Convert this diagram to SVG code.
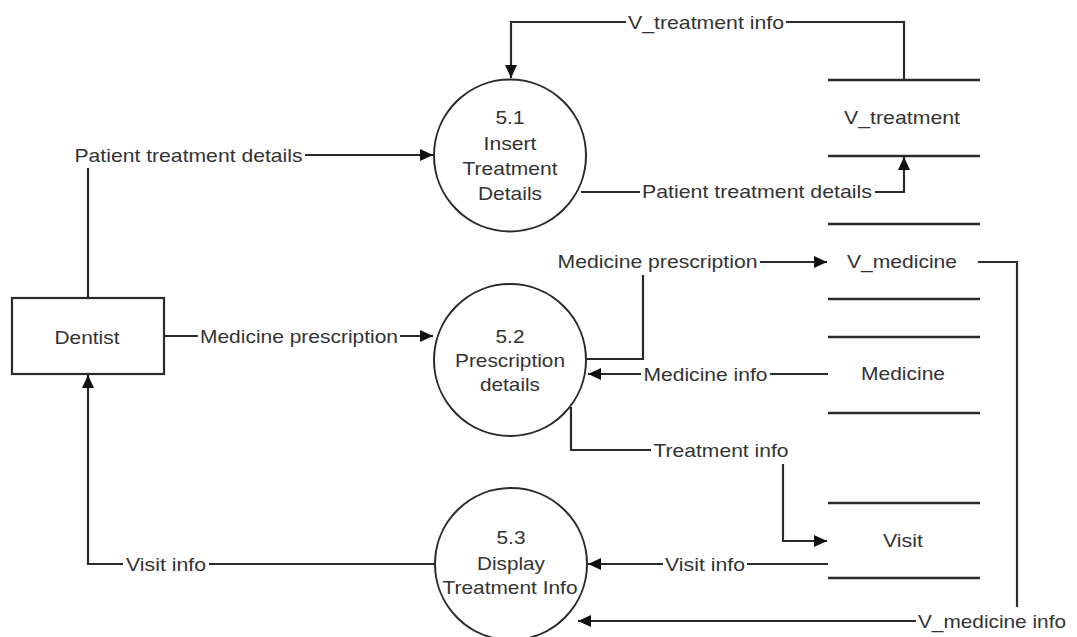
<svg xmlns="http://www.w3.org/2000/svg" width="1077" height="637" viewBox="0 0 1077 637">
  <style>
    .bg { fill: #ffffff; }
    .proc { fill: #ffffff; stroke: #2a2a2a; stroke-width: 2; }
    .ext { fill: #ffffff; stroke: #2a2a2a; stroke-width: 2.2; }
    .store { stroke: #2a2a2a; stroke-width: 2.5; }
    .flow { fill: none; stroke: #2a2a2a; stroke-width: 2.2; }
    .arrow { marker-end: url(#head); }
    .lbl-bg { fill: #ffffff; }
    text { font-family: "Liberation Sans", Arial, sans-serif; font-size: 19px; fill: #333333; text-anchor: middle; }
  </style>
  <defs>
    <marker id="head" markerUnits="userSpaceOnUse" markerWidth="13" markerHeight="12" refX="13" refY="6" orient="auto">
      <path d="M0,0 L13,6 L0,12 z" fill="#111111"/>
    </marker>
  </defs>

  <rect class="bg" x="0" y="0" width="1077" height="637"/>

  <!-- data flows -->
  <g id="connectors">
    <path class="flow arrow" d="M88,298 V155 H433"/>
    <path class="flow arrow" d="M164,336 H433"/>
    <path class="flow arrow" d="M435,564 H88 V375"/>
    <path class="flow arrow" d="M904,80 V22 H511 V78"/>
    <path class="flow arrow" d="M581,192 H904 V157"/>
    <path class="flow arrow" d="M587,359 H643 V262 H827"/>
    <path class="flow arrow" d="M828,374 H588"/>
    <path class="flow arrow" d="M571,407 V450 H783 V541 H827"/>
    <path class="flow arrow" d="M828,564 H588"/>
    <path class="flow arrow" d="M978,262 H1017 V621 H578"/>

    <!-- flow labels -->
    <rect class="lbl-bg" x="72" y="143" width="233" height="25"/>
    <text x="188.5" y="162" textLength="228" lengthAdjust="spacingAndGlyphs">Patient treatment details</text>

    <rect class="lbl-bg" x="198" y="324" width="202" height="24"/>
    <text x="299" y="343" textLength="198" lengthAdjust="spacingAndGlyphs">Medicine prescription</text>

    <rect class="lbl-bg" x="123" y="552" width="86" height="24"/>
    <text x="166" y="571" textLength="80" lengthAdjust="spacingAndGlyphs">Visit info</text>

    <rect class="lbl-bg" x="626" y="10" width="160" height="24"/>
    <text x="706" y="29" textLength="156" lengthAdjust="spacingAndGlyphs">V_treatment info</text>

    <rect class="lbl-bg" x="640" y="179" width="235" height="25"/>
    <text x="757" y="198" textLength="230" lengthAdjust="spacingAndGlyphs">Patient treatment details</text>

    <rect class="lbl-bg" x="555" y="249" width="205" height="26"/>
    <text x="657.5" y="268" textLength="200" lengthAdjust="spacingAndGlyphs">Medicine prescription</text>

    <rect class="lbl-bg" x="641" y="362" width="129" height="24"/>
    <text x="705.5" y="381" textLength="124" lengthAdjust="spacingAndGlyphs">Medicine info</text>

    <rect class="lbl-bg" x="651" y="437" width="140" height="27"/>
    <text x="721" y="457" textLength="135" lengthAdjust="spacingAndGlyphs">Treatment info</text>

    <rect class="lbl-bg" x="663" y="552" width="84" height="24"/>
    <text x="705" y="571" textLength="80" lengthAdjust="spacingAndGlyphs">Visit info</text>

    <rect class="lbl-bg" x="916" y="607" width="154" height="28"/>
    <text x="992" y="628" textLength="148" lengthAdjust="spacingAndGlyphs">V_medicine info</text>
  </g>

  <!-- external entity -->
  <g id="dentist">
    <rect class="ext" x="12" y="298" width="152" height="76"/>
    <text x="87" y="344" textLength="65" lengthAdjust="spacingAndGlyphs">Dentist</text>
  </g>

  <!-- processes -->
  <g id="process-5-1">
    <circle class="proc" cx="510" cy="155.5" r="76"/>
    <text x="510" y="124" textLength="29" lengthAdjust="spacingAndGlyphs">5.1</text>
    <text x="510" y="150" textLength="53" lengthAdjust="spacingAndGlyphs">Insert</text>
    <text x="510" y="175" textLength="95" lengthAdjust="spacingAndGlyphs">Treatment</text>
    <text x="510" y="200" textLength="64" lengthAdjust="spacingAndGlyphs">Details</text>
  </g>

  <g id="process-5-2">
    <circle class="proc" cx="510" cy="360" r="76"/>
    <text x="510" y="343" textLength="29" lengthAdjust="spacingAndGlyphs">5.2</text>
    <text x="510" y="367" textLength="110" lengthAdjust="spacingAndGlyphs">Prescription</text>
    <text x="510" y="391" textLength="60" lengthAdjust="spacingAndGlyphs">details</text>
  </g>

  <g id="process-5-3">
    <circle class="proc" cx="511" cy="564" r="76"/>
    <text x="511" y="544" textLength="29" lengthAdjust="spacingAndGlyphs">5.3</text>
    <text x="511" y="570" textLength="68" lengthAdjust="spacingAndGlyphs">Display</text>
    <text x="510" y="594" textLength="135" lengthAdjust="spacingAndGlyphs">Treatment Info</text>
  </g>

  <!-- data stores -->
  <g id="store-v-treatment">
    <line class="store" x1="828" y1="80" x2="980" y2="80"/>
    <line class="store" x1="828" y1="156" x2="980" y2="156"/>
    <text x="902" y="124" textLength="116" lengthAdjust="spacingAndGlyphs">V_treatment</text>
  </g>

  <g id="store-v-medicine">
    <line class="store" x1="828" y1="224" x2="980" y2="224"/>
    <line class="store" x1="828" y1="299" x2="980" y2="299"/>
    <text x="902" y="268" textLength="110" lengthAdjust="spacingAndGlyphs">V_medicine</text>
  </g>

  <g id="store-medicine">
    <line class="store" x1="828" y1="337" x2="980" y2="337"/>
    <line class="store" x1="828" y1="413" x2="980" y2="413"/>
    <text x="903" y="380" textLength="84" lengthAdjust="spacingAndGlyphs">Medicine</text>
  </g>

  <g id="store-visit">
    <line class="store" x1="828" y1="503" x2="980" y2="503"/>
    <line class="store" x1="828" y1="578" x2="980" y2="578"/>
    <text x="903" y="547" textLength="40" lengthAdjust="spacingAndGlyphs">Visit</text>
  </g>
</svg>
